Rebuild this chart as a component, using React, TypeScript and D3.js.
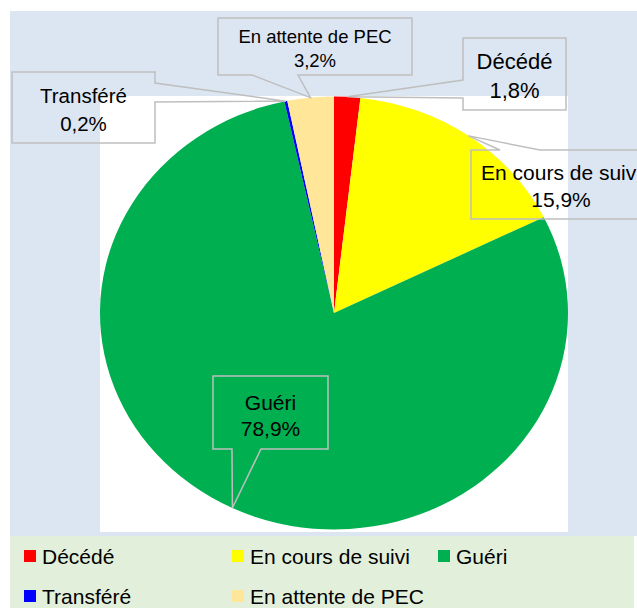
import React from "react";
import * as d3 from "d3";

const categories = ["Décédé", "En cours de suivi", "Guéri", "Transféré", "En attente de PEC"];
const values = [1.8, 15.9, 78.9, 0.2, 3.2];
const colors = ["#ff0000", "#ffff00", "#00b050", "#0000ff", "#ffe699"];

const W = 637;
const H = 611;
const FONT = "'Liberation Sans', Arial, sans-serif";

type Callout = {
  box: [number, number, number, number];
  side: "top" | "bottom" | "left" | "right";
  base: [number, number];
  lines: [number, number];
  tx: number;
  fs: number;
};

const callouts: Callout[] = [
  { box: [463, 38, 566, 110], side: "left", base: [80, 98], lines: [61, 90], tx: 514.5, fs: 22 },
  { box: [471, 150, 660, 219], side: "top", base: [500, 540], lines: [172, 199], tx: 561, fs: 21 },
  { box: [213, 376, 328, 449], side: "bottom", base: [232, 261], lines: [402, 428], tx: 270.5, fs: 21 },
  { box: [12, 72, 155, 143], side: "right", base: [83, 102], lines: [95, 123], tx: 83.5, fs: 20.5 },
  { box: [218, 18, 412, 75], side: "bottom", base: [252, 298], lines: [36, 60], tx: 315, fs: 18.5 },
];

function calloutPath(c: Callout, tip: [number, number]): string {
  const [x0, y0, x1, y1] = c.box;
  const [b1, b2] = c.base;
  const t = `${tip[0]},${tip[1]}`;
  switch (c.side) {
    case "top":
      return `M${x0},${y0}L${b1},${y0}L${t}L${b2},${y0}L${x1},${y0}L${x1},${y1}L${x0},${y1}Z`;
    case "bottom":
      return `M${x0},${y0}L${x1},${y0}L${x1},${y1}L${b2},${y1}L${t}L${b1},${y1}L${x0},${y1}Z`;
    case "left":
      return `M${x0},${y0}L${x1},${y0}L${x1},${y1}L${x0},${y1}L${x0},${b2}L${t}L${x0},${b1}Z`;
    default:
      return `M${x0},${y0}L${x1},${y0}L${x1},${b1}L${t}L${x1},${b2}L${x1},${y1}L${x0},${y1}Z`;
  }
}

export default function App() {
  const cx = 334;
  const cy = 313;
  const rx = 234;
  const ry = 216.5;
  const pie = d3.pie<number>().sort(null).value((d) => d)(values);
  const arc = d3.arc<d3.PieArcDatum<number>>().innerRadius(0).outerRadius(ry);
  const fmt = (v: number) => `${v.toFixed(1).replace(".", ",")}%`;

  const tips = pie.map((p) => {
    const a = (p.startAngle + p.endAngle) / 2;
    return [cx + rx * Math.sin(a), cy - ry * Math.cos(a)] as [number, number];
  });

  const legendCols = [24, 232, 438];
  const legendRows = [556, 596];

  return (
    <svg width={W} height={H} style={{ position: "absolute", left: 0, top: 0 }} fontFamily={FONT}>
      <rect x={0} y={0} width={W} height={H} fill="#ffffff" />
      <rect x={10} y={11} width={W - 10} height={525} fill="#dce6f2" />
      <rect x={100} y={96} width={468} height={436} fill="#ffffff" />
      <rect x={10} y={536} width={624} height={72} fill="#e2efda" />
      <g transform={`translate(${cx},${cy}) scale(${rx / ry},1)`}>
        {pie.map((p, i) => (
          <path key={categories[i]} d={arc(p) || ""} fill={colors[i]} />
        ))}
      </g>
      {callouts.map((c, i) => (
        <g key={"c" + i}>
          <path d={calloutPath(c, tips[i])} fill="none" stroke="#bfbfbf" strokeWidth={1.5} />
          <text x={c.tx} y={c.lines[0]} textAnchor="middle" dominantBaseline="central" fontSize={c.fs} fill="#000">
            {categories[i]}
          </text>
          <text x={c.tx} y={c.lines[1]} textAnchor="middle" dominantBaseline="central" fontSize={c.fs} fill="#000">
            {fmt(values[i])}
          </text>
        </g>
      ))}
      {categories.map((cat, i) => {
        const col = i % 3;
        const row = Math.floor(i / 3);
        const x = legendCols[col];
        const y = legendRows[row];
        return (
          <g key={"l" + i}>
            <rect x={x} y={y - 6} width={12} height={12} fill={colors[i]} />
            <text x={x + 18} y={y} dominantBaseline="central" fontSize={21} fill="#000">
              {cat}
            </text>
          </g>
        );
      })}
    </svg>
  );
}
